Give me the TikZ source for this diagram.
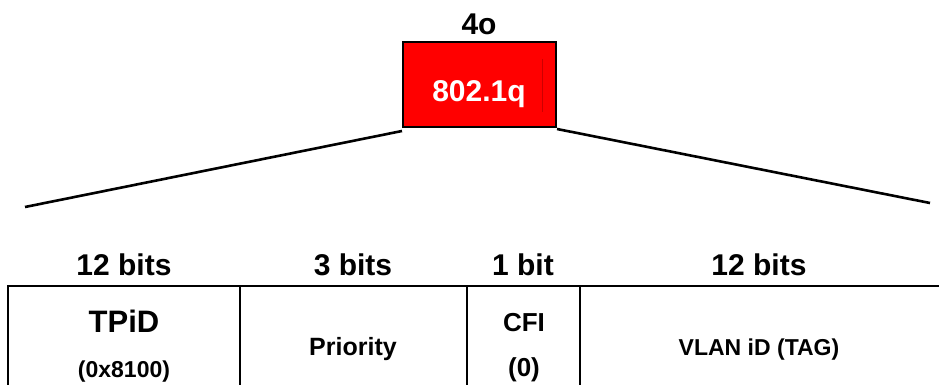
\documentclass[tikz,border=0pt]{standalone}
\usepackage{fontspec}
\setmainfont{Liberation Sans}
\begin{document}
\begin{tikzpicture}[x=1pt,y=-1pt,
  lbl/.style={inner sep=0pt,anchor=base,font=\bfseries\fontsize{#1}{#1}\selectfont},
  rule/.style={line width=2.6pt,black},
  tagbox/.style={draw=black,line width=1.8pt,fill=red,inner sep=0pt}]
  \useasboundingbox (0,0) rectangle (939,385);
  % tag box and its size
  \node[lbl=30] (size) at (479,35) {4o};
  \node[tagbox,minimum width=153pt,minimum height=85pt] (tag) at (479.5,84.5) {};
  \node[lbl=30,text=white] (name) at (479,102) {802.1q};
  \draw[red!80!black,line width=0.5pt] (542,59) -- (542,112);
  % expansion lines
  \coordinate (l0) at (402,131);
  \coordinate (l1) at (25,207);
  \coordinate (r0) at (557,129);
  \coordinate (r1) at (930,203);
  \draw[rule] (l0) -- (l1);
  \draw[rule] (r0) -- (r1);
  % field table
  \coordinate (t0) at (7,286);
  \coordinate (t1) at (939,286);
  \draw[rule] (t0) -- (t1);
  \foreach \x/\n in {8/a,240/b,467/c,580/d}{
    \coordinate (top\n) at (\x,286);
    \coordinate (bot\n) at (\x,386);
    \draw[rule] (top\n) -- (bot\n);
  }
  % widths
  \node[lbl=30] (w1) at (124,275) {12 bits};
  \node[lbl=30] (w2) at (353,275) {3 bits};
  \node[lbl=30] (w3) at (523,275) {1 bit};
  \node[lbl=30] (w4) at (759,275) {12 bits};
  % fields
  \node[lbl=31] (f1) at (124,332) {TPiD};
  \node[lbl=23] (f1v) at (124,377) {(0x8100)};
  \node[lbl=25] (f2) at (353,355) {Priority};
  \node[lbl=26] (f3) at (524,331) {CFI};
  \node[lbl=26] (f3v) at (524,376) {(0)};
  \node[lbl=23] (f4) at (759,355) {VLAN iD (TAG)};
\end{tikzpicture}
\end{document}
